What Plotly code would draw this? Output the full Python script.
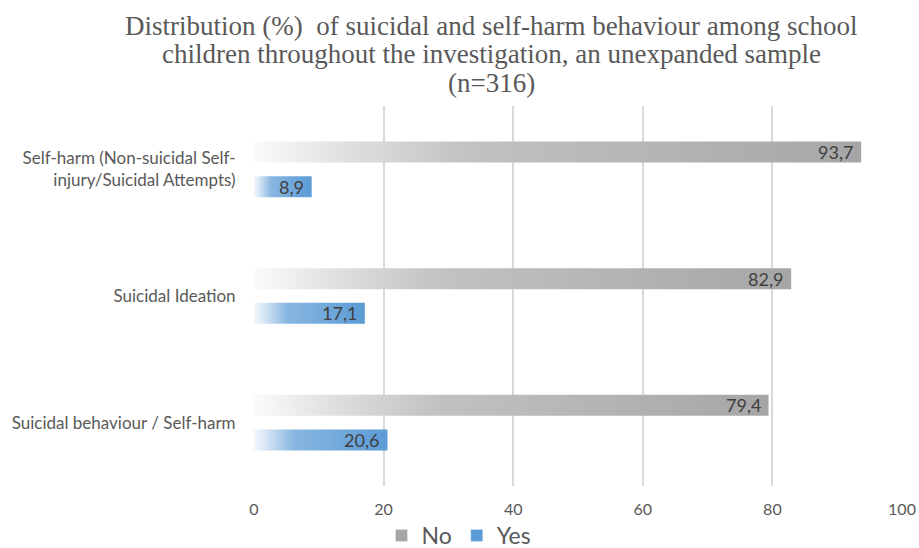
import plotly.graph_objects as go

categories = ["Self-harm (Non-suicidal Self-<br>injury/Suicidal Attempts)",
              "Suicidal Ideation",
              "Suicidal behaviour / Self-harm"]
no_vals = [93.7, 82.9, 79.4]
yes_vals = [8.9, 17.1, 20.6]
series_names = ["No", "Yes"]
x_ticks = [0, 20, 40, 60, 80, 100]
title_lines = ["Distribution (%)  of suicidal and self-harm behaviour among school",
               "children throughout the investigation, an unexpanded sample",
               "(n=316)"]

GRAY = "#a6a6a6"
BLUE = "#5b9bd5"
GRAY_SCALE = [[0, "#fbfbfb"], [0.15, "#e0e0e0"], [0.35, "#c2c2c2"], [1, GRAY]]
BLUE_SCALE = [[0, "#f4f8fd"], [0.1, "#d3e4f4"], [0.3, "#88b6e1"], [1, BLUE]]
TXT = "#595959"
FONT = "Lato"

W, H = 919, 548
ML, MR, MT, MB = 254, 17, 106, 62
PH = H - MT - MB
PW = W - ML - MR

half = 0.083
offset = 0.137
n = len(categories)
pos = [n - 1 - i for i in range(n)]

fig = go.Figure()

def add_bar(val, center, scale):
    y0, y1 = center - half, center + half
    fig.add_trace(go.Scatter(
        x=[0, val, val, 0, 0], y=[y0, y0, y1, y1, y0],
        mode="lines", fill="toself", line=dict(width=0, color=scale[-1][1]),
        fillgradient=dict(type="horizontal", colorscale=scale),
        showlegend=False, hoverinfo="skip"))

for i in range(n):
    add_bar(no_vals[i], pos[i] + offset, GRAY_SCALE)
    add_bar(yes_vals[i], pos[i] - offset, BLUE_SCALE)

fmt = lambda v: f"{v:.1f}".replace(".", ",")
for vals, sgn in ((no_vals, 1), (yes_vals, -1)):
    for v, p in zip(vals, pos):
        fig.add_annotation(x=v, y=p + sgn * offset, xref="x", yref="y",
                           text=fmt(v), showarrow=False, xanchor="right",
                           yanchor="middle", xshift=-6,
                           font=dict(family=FONT, size=18, color="#404040"))

# legend entries
for name, col in zip(series_names, [GRAY, BLUE]):
    fig.add_trace(go.Bar(x=[None], y=[None], orientation="h", name=name,
                         marker=dict(color=col), showlegend=True))

# title as separate lines
cx = (491 - ML) / PW
for line, py in zip(title_lines, [26, 54, 83]):
    fig.add_annotation(text=line, x=cx, xref="paper", xanchor="center",
                       y=1 + (MT - py) / PH, yref="paper", yanchor="middle",
                       showarrow=False,
                       font=dict(family="Liberation Serif", size=27, color=TXT))

fig.update_layout(
    width=W, height=H,
    margin=dict(l=ML, r=MR, t=MT, b=MB, autoexpand=False),
    paper_bgcolor="white", plot_bgcolor="white",
    font=dict(family=FONT, color=TXT),
    showlegend=True,
    legend=dict(orientation="h", x=(459 - ML) / PW, xanchor="center",
                y=-(514 - (MT + PH)) / PH, yanchor="top",
                bgcolor="rgba(0,0,0,0)",
                font=dict(family=FONT, size=23, color=TXT), traceorder="normal",
                itemwidth=30),
    xaxis=dict(range=[0, 100], tickvals=x_ticks, showgrid=True, gridcolor="#d9d9d9",
               gridwidth=1.5, zeroline=False, showline=False, ticks="outside", ticklen=9,
               tickcolor="rgba(0,0,0,0)", tickfont=dict(family=FONT, size=16, color=TXT)),
    yaxis=dict(range=[-0.5, n - 0.5], tickvals=pos, ticktext=categories,
               showgrid=False, zeroline=False, showline=False, ticks="outside", ticklen=14,
               tickcolor="rgba(0,0,0,0)", tickfont=dict(family=FONT, size=17, color=TXT)),
)

fig.write_html("out.html")
